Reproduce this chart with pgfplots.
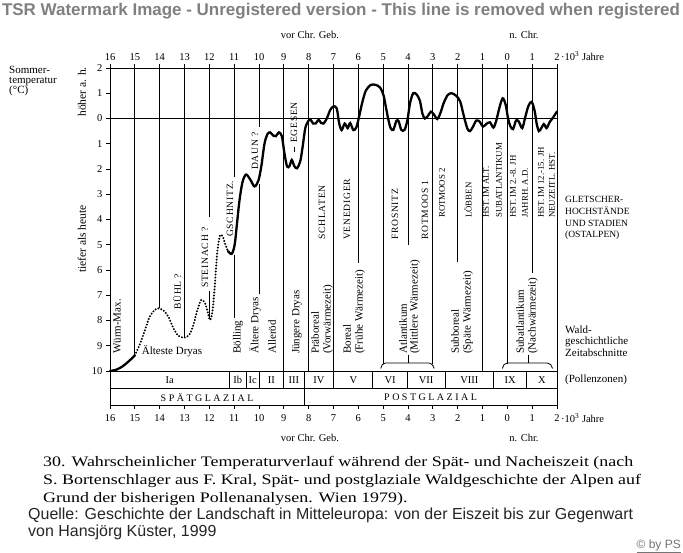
\documentclass[border=0pt]{standalone}
\usepackage{graphicx}
\usepackage{pgfplots}
\pgfplotsset{compat=1.18}
\usepackage{fontspec}
\setmainfont{Liberation Serif}
\newfontfamily\sansf{Liberation Sans}
\newcommand{\fs}[1]{\fontsize{#1}{#1}\selectfont}
\newcommand{\capsf}{\fs{8.8}}
\newcommand{\capss}{\fs{9.6}\addfontfeature{LetterSpace=8}}
\newcommand{\lowf}{\fs{11}}
\newlength\tmpw
\newcommand{\vlab}[4]{\node[rotate=90,anchor=west,inner sep=0pt,font=#4] at (#1,552-#2) {#3};}
\begin{document}%
\settowidth\tmpw{\fontsize{14.5}{14.5}\selectfont 30. Wahrscheinlicher Temperaturverlauf während der Spät- und Nacheiszeit (nach}%
\pgfmathsetmacro\capsx{590/\tmpw}%
\settowidth\tmpw{\sansf\fontsize{10}{12}\selectfont Quelle: Geschichte der Landschaft in Mitteleuropa: von der Eiszeit bis zur Gegenwart}%
\pgfmathsetmacro\qfs{10*605/\tmpw}%
\settowidth\tmpw{\sansf\bfseries\fontsize{10}{12}\selectfont TSR Watermark Image - Unregistered version - This line is removed when registered}%
\pgfmathsetmacro\wfs{10*678/\tmpw}%
\begin{tikzpicture}[x=1pt,y=1pt]
\useasboundingbox (0,0) rectangle (683,552);
\fill[white] (0,0) rectangle (683,552);
\begin{axis}[
  at={(110pt,181pt)}, anchor=south west,
  scale only axis, width=447pt, height=303pt,
  xmin=-16, xmax=2, ymin=-10, ymax=2,
  clip=false,
  axis line style={line width=0.9pt},
  xtick={-16,-15,...,2},
  xticklabels={16,15,14,13,12,11,10,9,8,7,6,5,4,3,2,1,0,1,2},
  xtick pos=top, xticklabel pos=top,
  ytick={-10,-9,...,2},
  yticklabels={10,9,8,7,6,5,4,3,2,1,0,1,2},
  ytick pos=left,
  tick align=outside, major tick length=4pt,
  tick style={line width=0.8pt, black},
  ticklabel style={font=\fs{10.5}},
  /pgf/number format/assume math mode=true,
]
% zero line
\draw[line width=0.7pt] (axis cs:-16,0) -- (axis cs:2,0);
% vertical lines (glacier stages)
\draw[line width=0.8pt] (axis cs:-15,2) -- (axis cs:-15,-9.45);
\draw[line width=0.8pt] (axis cs:-14,2) -- (axis cs:-14,-7.5);
\draw[line width=0.8pt] (axis cs:-13,2) -- (axis cs:-13,-8.67);
\draw[line width=0.8pt] (axis cs:-12,2) -- (axis cs:-12,-3.9);
\draw[line width=0.8pt] (axis cs:-12,-6.85) -- (axis cs:-12,-7.95);
\draw[line width=0.8pt] (axis cs:-11,2) -- (axis cs:-11,-2.3);
\draw[line width=0.8pt] (axis cs:-11,-5.4) -- (axis cs:-11,-7.9);
\draw[line width=0.8pt] (axis cs:-10,2) -- (axis cs:-10,-0.33);
\draw[line width=0.8pt] (axis cs:-10,-2.6) -- (axis cs:-10,-6.95);
\draw[line width=0.8pt] (axis cs:-9,2) -- (axis cs:-9,-10);
\draw[line width=0.8pt] (axis cs:-8,2) -- (axis cs:-8,-10);
\draw[line width=0.8pt] (axis cs:-7,2) -- (axis cs:-7,-10);
\draw[line width=0.8pt] (axis cs:-6,2) -- (axis cs:-6,-5.72);
\draw[line width=0.8pt] (axis cs:-5,2) -- (axis cs:-5,-9.72);
\draw[line width=0.8pt] (axis cs:-4,2) -- (axis cs:-4,-5.0);
\draw[line width=0.8pt] (axis cs:-4,-9.35) -- (axis cs:-4,-9.68);
\draw[line width=0.8pt] (axis cs:-3,2) -- (axis cs:-3,-9.72);
\draw[line width=0.8pt] (axis cs:-2,2) -- (axis cs:-2,-5.68);
\draw[line width=0.8pt] (axis cs:-1,2) -- (axis cs:-1,-10);
\draw[line width=0.8pt] (axis cs:0,2) -- (axis cs:0,-9.72);
\draw[line width=0.8pt] (axis cs:1,2) -- (axis cs:1,-6.1);
\draw[line width=0.8pt] (axis cs:0.85,-9.35) -- (axis cs:0.85,-9.68);
% braces
\draw[line width=0.8pt] (axis cs:-5.1,-9.9) to[out=80,in=180] (axis cs:-4.9,-9.68) -- (axis cs:-3.2,-9.68) to[out=0,in=100] (axis cs:-2.95,-9.9);
\draw[line width=0.8pt] (axis cs:-0.2,-9.9) to[out=80,in=180] (axis cs:0.0,-9.68) -- (axis cs:1.6,-9.68) to[out=0,in=100] (axis cs:1.82,-9.9);
% pollen zone boxes
\draw[line width=0.9pt] (axis cs:-16,-10) -- (axis cs:-16,-11.35) -- (axis cs:2,-11.35) -- (axis cs:2,-10);
\draw[line width=0.9pt] (axis cs:-16,-10.71) -- (axis cs:2,-10.71);
\pgfplotsinvokeforeach{-11.2,-10.52,-9.99,-9.02,-8.17,-7.01,-5.42,-4.03,-2.5,-0.56,0.78}{
  \draw[line width=0.9pt] (axis cs:#1,-10) -- (axis cs:#1,-10.71);}
\draw[line width=0.9pt] (axis cs:-8.17,-10.71) -- (axis cs:-8.17,-11.35);
\pgfplotsinvokeforeach{-16,-15,-14,-13,-12,-11,-10,-9,-8,-7,-6,-5,-4,-3,-2,-1,0,1,2}{
  \draw[line width=0.8pt] (axis cs:#1,-11.35) -- (axis cs:#1,-11.51);}
\node[font=\fs{10.5}] at (axis cs:-13.6,-10.36) {Ia};
\node[font=\fs{10.5}] at (axis cs:-10.86,-10.36) {Ib};
\node[font=\fs{10.5}] at (axis cs:-10.25,-10.36) {Ic};
\node[font=\fs{10.5}] at (axis cs:-9.5,-10.36) {II};
\node[font=\fs{10.5}] at (axis cs:-8.6,-10.36) {III};
\node[font=\fs{10.5}] at (axis cs:-7.59,-10.36) {IV};
\node[font=\fs{10.5}] at (axis cs:-6.2,-10.36) {V};
\node[font=\fs{10.5}] at (axis cs:-4.72,-10.36) {VI};
\node[font=\fs{10.5}] at (axis cs:-3.27,-10.36) {VII};
\node[font=\fs{10.5}] at (axis cs:-1.53,-10.36) {VIII};
\node[font=\fs{10.5}] at (axis cs:0.11,-10.36) {IX};
\node[font=\fs{10.5}] at (axis cs:1.39,-10.36) {X};
\node[font=\fs{10}] at (axis cs:-12.09,-11.03) {\addfontfeature{LetterSpace=25}SPÄTGLAZIAL};
\node[font=\fs{10}] at (axis cs:-3.09,-11.03) {\addfontfeature{LetterSpace=25}POSTGLAZIAL};
% temperature curve
\addplot[line width=2.3pt, smooth, line cap=round] coordinates {
(-16,-10) (-15.75,-9.95) (-15.5,-9.82) (-15.25,-9.62) (-15,-9.38)};
\addplot[line width=2.2pt, smooth, line cap=round, dash pattern=on 0pt off 3pt] coordinates {
(-15,-9.38) (-14.8,-8.95) (-14.6,-8.4) (-14.4,-7.85) (-14.2,-7.58) (-14.05,-7.52) (-13.85,-7.6) (-13.65,-7.85) (-13.45,-8.3) (-13.25,-8.6) (-13.0,-8.68) (-12.8,-8.55) (-12.65,-8.2) (-12.5,-7.65) (-12.33,-7.19) (-12.18,-7.3) (-12.07,-7.65) (-11.97,-7.98) (-11.87,-7.6) (-11.78,-6.6) (-11.68,-5.3) (-11.57,-4.62) (-11.45,-4.7) (-11.35,-5.0) (-11.25,-5.25)};
\addplot[line width=2.3pt, smooth, line cap=round] coordinates {
(-11.25,-5.25) (-11.1,-5.36) (-10.98,-5.0) (-10.88,-4.1) (-10.78,-3.2) (-10.66,-2.5) (-10.52,-2.22) (-10.35,-2.42) (-10.18,-2.69) (-10.02,-2.45) (-9.9,-1.85) (-9.78,-1.0) (-9.66,-0.62) (-9.55,-0.55) (-9.42,-0.68) (-9.32,-0.7) (-9.2,-0.55) (-9.08,-0.7) (-8.98,-1.35) (-8.87,-1.9) (-8.77,-1.88) (-8.68,-1.64) (-8.58,-1.88) (-8.47,-1.97) (-8.34,-1.7) (-8.24,-1.1) (-8.14,-0.4) (-8.03,-0.12) (-7.93,-0.04) (-7.82,-0.2) (-7.72,-0.2) (-7.6,-0.05) (-7.5,-0.18) (-7.4,-0.2) (-7.27,0.0) (-7.13,0.34) (-7.0,0.48) (-6.87,0.4) (-6.77,-0.2) (-6.67,-0.46) (-6.55,-0.2) (-6.43,-0.38) (-6.33,-0.18) (-6.2,-0.46) (-6.08,-0.35) (-5.97,0.07) (-5.85,0.6) (-5.7,1.1) (-5.5,1.33) (-5.3,1.33) (-5.12,1.22) (-4.98,0.9) (-4.88,0.4) (-4.79,-0.05) (-4.7,-0.38) (-4.59,-0.45) (-4.47,-0.1) (-4.38,-0.1) (-4.27,-0.45) (-4.14,-0.45) (-4.02,-0.05) (-3.92,0.6) (-3.79,1.0) (-3.65,0.95) (-3.52,0.7) (-3.42,0.2) (-3.32,0.0) (-3.2,0.1) (-3.08,0.27) (-2.95,0.15) (-2.82,-0.02) (-2.7,0.2) (-2.56,0.62) (-2.4,0.93) (-2.24,1.0) (-2.06,0.9) (-1.9,0.68) (-1.79,0.25) (-1.7,-0.1) (-1.6,-0.42) (-1.5,-0.5) (-1.38,-0.32) (-1.25,-0.08) (-1.12,-0.12) (-0.98,-0.32) (-0.85,-0.22) (-0.7,-0.15) (-0.56,-0.36) (-0.45,-0.1) (-0.32,0.42) (-0.19,0.8) (-0.07,0.55) (0.03,0.0) (0.12,-0.3) (0.23,-0.42) (0.35,-0.08) (0.46,-0.12) (0.6,-0.38) (0.72,0.05) (0.85,0.5) (0.98,0.66) (1.1,0.3) (1.18,-0.2) (1.27,-0.5) (1.37,-0.38) (1.47,-0.22) (1.58,-0.38) (1.7,-0.15) (1.85,0.05) (2.0,0.28)};
\end{axis}
% ---- texts in pixel coordinates ----
\node[font=\sansf\bfseries\fontsize{\wfs}{\wfs}\selectfont, text=black!50, inner sep=0pt] at (341,552-11) {TSR Watermark Image - Unregistered version - This line is removed when registered};
\node[font=\fs{10.5}] at (310,552-35) {vor Chr. Geb.};
\node[font=\fs{10.5}] at (524,552-35) {n. Chr.};
\node[font=\fs{10.5}, anchor=west, inner sep=0pt] at (561,552-56) {·10\textsuperscript{3} Jahre};
\node[font=\fs{10.5}, anchor=west, inner sep=0pt] at (561,552-418) {·10\textsuperscript{3} Jahre};
\foreach \i in {0,...,18}{\pgfmathtruncatemacro\l{abs(16-\i)}\node[font=\fs{10.5}] at ({110+\i*24.8333},552-418) {\l};}
\node[font=\fs{10.5}] at (310,552-438) {vor Chr. Geb.};
\node[font=\fs{10.5}] at (524,552-438) {n. Chr.};
% left
\node[font=\fontsize{11}{10}\selectfont, anchor=north west, align=left, inner sep=0pt] at (9,552-66) {Sommer-\\temperatur\\(°C)};
\node[font=\fs{11.5}, rotate=90, anchor=east, inner sep=0pt] at (82,552-67) {höher a. h.};
\node[font=\fs{11.5}, rotate=90, anchor=east, inner sep=0pt] at (82,552-205) {tiefer als heute};
% right
\node[font=\fontsize{9.5}{11.8}\selectfont, anchor=west, align=left, inner sep=0pt] at (565,552-218) {GLETSCHER-\\HOCHSTÄNDE\\UND STADIEN\\(OSTALPEN)};
\node[font=\fontsize{11}{11.3}\selectfont, anchor=west, align=left, inner sep=0pt] at (565,552-341) {Wald-\\geschichtliche\\Zeitabschnitte};
\node[font=\fs{11}, anchor=west, inner sep=0pt] at (565,552-380) {(Pollenzonen)};
% glacier stage labels
\vlab{230}{237}{GSCHNITZ.}{\capss}
\vlab{255}{170}{DAUN ?}{\capss}
\vlab{294}{143}{EGESEN}{\capss}
\draw[line width=0.6pt] (294,552-147) -- (294,552-152);
\vlab{205}{288}{STEINACH ?}{\capss}
\vlab{177}{310}{BÜHL ?}{\capss}
\vlab{322}{240}{SCHLATEN}{\capss}
\vlab{347}{240}{VENEDIGER}{\capss}
\vlab{395}{240}{FROSNITZ}{\capss}
\vlab{425}{240}{ROTMOOS 1}{\capss}
\vlab{442}{218}{ROTMOOS 2}{\capsf}
\vlab{468}{218}{LÖBBEN}{\capsf}
\vlab{486}{218}{HST. IM ALT.}{\capsf}
\vlab{499}{218}{SUBATLANTIKUM}{\capsf}
\vlab{513}{218}{HST. IM 2.-8. JH}{\capsf}
\vlab{525}{218}{JAHRH. A.D.}{\capsf}
\vlab{541}{218}{HST. IM 12.-15. JH}{\capsf}
\vlab{552}{218}{NEUZEITL. HST.}{\capsf}
% forest history labels
\vlab{117}{354}{Würm-Max.}{\lowf}
\node[font=\lowf, inner sep=0pt] at (172,552-351) {Älteste Dryas};
\vlab{238}{354}{Bölling}{\lowf}
\vlab{255}{354}{Ältere Dryas}{\lowf}
\vlab{272}{354}{Alleröd}{\lowf}
\vlab{297}{354}{Jüngere Dryas}{\lowf}
\vlab{315}{354}{Präboreal}{\lowf}
\vlab{328}{354}{(Vorwärmezeit)}{\lowf}
\vlab{347}{354}{Boreal}{\lowf}
\vlab{360}{354}{(Frühe Wärmezeit)}{\lowf}
\vlab{403}{354}{Atlantikum}{\lowf}
\vlab{415}{354}{(Mittlere Wärmezeit)}{\lowf}
\vlab{455}{354}{Subboreal}{\lowf}
\vlab{468}{354}{(Späte Wärmezeit)}{\lowf}
\vlab{520}{354}{Subatlantikum}{\lowf}
\vlab{533}{354}{(Nachwärmezeit)}{\lowf}
% caption
\begin{scope}[every node/.style={anchor=base west, inner sep=0pt, font=\fontsize{14.5}{14.5}\selectfont}]
\node at (43,552-467) {\scalebox{\capsx}[1]{30. Wahrscheinlicher Temperaturverlauf während der Spät- und Nacheiszeit (nach}};
\node at (43,552-485) {\scalebox{\capsx}[1]{S. Bortenschlager aus F. Kral, Spät- und postglaziale Waldgeschichte der Alpen auf}};
\node at (43,552-502) {\scalebox{\capsx}[1]{Grund der bisherigen Pollenanalysen. Wien 1979).}};
\end{scope}
\begin{scope}[every node/.style={anchor=base west, inner sep=0pt, text=black!85, font=\sansf\fontsize{\qfs}{\qfs}\selectfont}]
\node at (28,552-519) {Quelle: Geschichte der Landschaft in Mitteleuropa: von der Eiszeit bis zur Gegenwart};
\node at (28,552-536) {von Hansjörg Küster, 1999};
\end{scope}
\node[font=\sansf\fs{12}, text=black!55, anchor=base east, inner sep=0pt] at (681,552-548) {\underline{© by PS}};
\end{tikzpicture}%
\end{document}
